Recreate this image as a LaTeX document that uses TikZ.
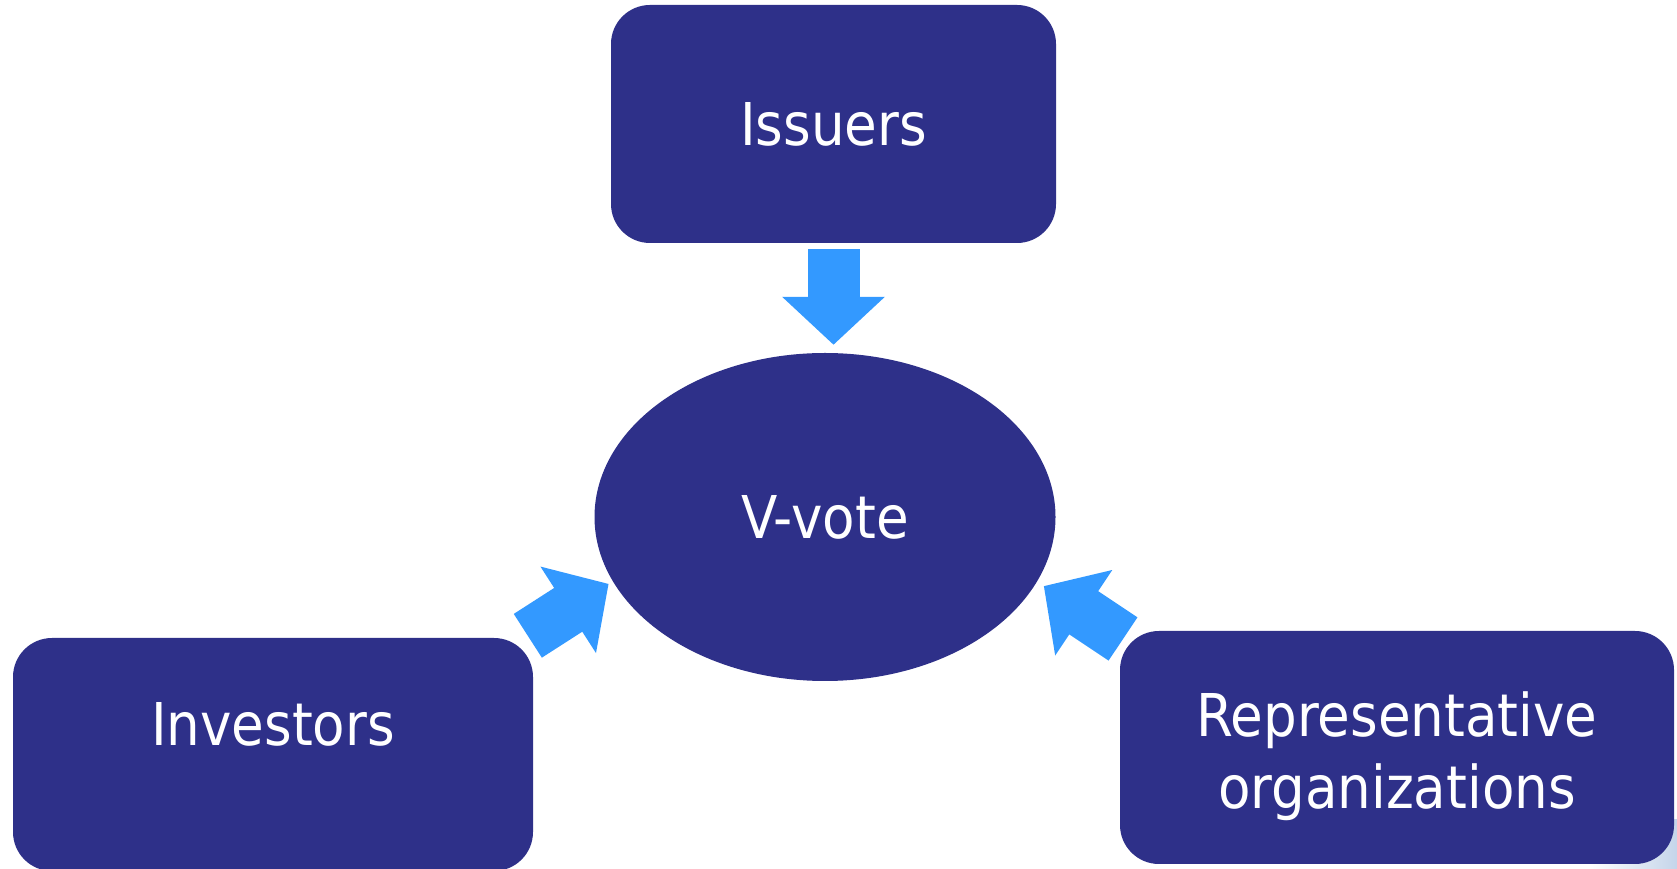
\documentclass[tikz,border=0pt]{standalone}
\usepackage{fontspec}
\setmainfont{DejaVu Sans Condensed}
\usetikzlibrary{calc, arrows.meta, shapes.geometric}
\definecolor{navy}{RGB}{46,48,137}
\definecolor{skyarrow}{RGB}{51,153,255}
\definecolor{paleblue}{RGB}{197,213,234}
\tikzset{
  party/.style={fill=navy, rounded corners=39pt, text=white, align=center,
    font=\fontsize{59}{72}\selectfont},
  partylabel/.style={text=white, align=center, font=\fontsize{59}{72}\selectfont},
  hub/.style={ellipse, fill=navy, text=white, inner sep=0pt,
    font=\fontsize{59}{72}\selectfont},
  fat/.style={draw=skyarrow, line width=52pt, -{Triangle[width=100pt,length=48pt]}}
}

\begin{document}
\begin{tikzpicture}[x=1pt,y=1pt]
      \useasboundingbox (0,0) rectangle (1677,869);
      \shade[left color=white, right color=paleblue] (1590,0) rectangle (1677,49);
      \node[party, minimum width=445pt, minimum height=238pt] (issuers) at (833.5,745) {Issuers};
      \node[hub, minimum width=461pt, minimum height=328pt] (vote) at (825,352) {V-vote};
      \node[party, minimum width=520pt, minimum height=233pt] (investors) at (273,114.5) {};
      \node[partylabel] (invlabel) at (273,145) {Investors};
      \node[party, minimum width=554pt, minimum height=233pt] (reps) at (1397,121.5) {};
      \node[partylabel] (replabel) at (1397,113) {Representative\\organizations};
      \coordinate (invtail) at (527.8,233.2);
      \coordinate (invtip) at (608.6,285.1);
      \coordinate (reptail) at (1123,230);
      \coordinate (reptip) at (1043.8,282.9);
      \draw[fat] ($(issuers.south)+(0,-6)$) -- ($(issuers.south |- vote.north)+(0,8)$);
      \draw[fat] (invtail) -- (invtip);
      \draw[fat] (reptail) -- (reptip);
    \end{tikzpicture}
\end{document}
